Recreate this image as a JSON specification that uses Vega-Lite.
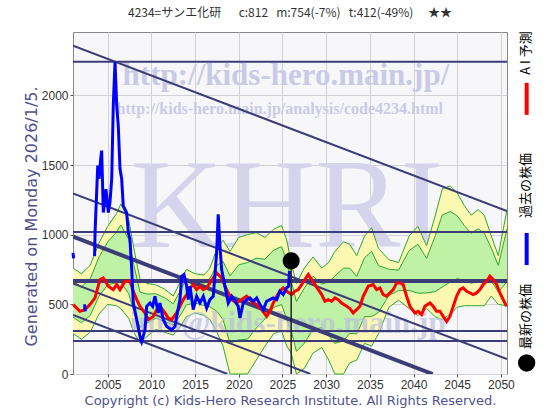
{
  "$schema": "https://vega.github.io/schema/vega-lite/v6.json",
  "width": 434,
  "height": 342,
  "autosize": {"type": "none"},
  "padding": {"left": 73, "top": 32, "right": 53, "bottom": 46},
  "background": "white",
  "title": {
    "text": "4234=サンエ化研\u3000\u00a0\u00a0c:812\u00a0\u00a0\u00a0m:754(-7%)\u00a0\u00a0\u00a0t:412(-49%)\u3000\u00a0★★",
    "font": "Noto Sans CJK JP",
    "fontSize": 12,
    "fontWeight": "normal",
    "color": "#333333",
    "offset": 11
  },
  "config": {
    "view": {"stroke": "#888888", "fill": "#f7f7fa"},
    "axis": {
      "labelFont": "Liberation Sans",
      "labelFontSize": 12,
      "labelColor": "#333333",
      "gridColor": "#d2d2d2",
      "gridWidth": 1,
      "domain": false,
      "tickColor": "#555555",
      "tickSize": 3,
      "labelPadding": 2,
      "titleFont": "DejaVu Sans",
      "titleFontWeight": "normal",
      "titleColor": "#50508c"
    }
  },
  "datasets": {
    "band": [
      {"t": 2001.03, "hi": 760, "lo": 290, "ihi": 666, "ilo": 408},
      {"t": 2002.0, "hi": 720, "lo": 250, "ihi": 626, "ilo": 368},
      {"t": 2003.0, "hi": 780, "lo": 300, "ihi": 684, "ilo": 420},
      {"t": 2004.0, "hi": 940, "lo": 430, "ihi": 838, "ilo": 558},
      {"t": 2005.0, "hi": 1060, "lo": 500, "ihi": 948, "ilo": 640},
      {"t": 2006.0, "hi": 1150, "lo": 490, "ihi": 1018, "ilo": 655},
      {"t": 2006.5, "hi": 1220, "lo": 470, "ihi": 1070, "ilo": 658},
      {"t": 2007.4, "hi": 1110, "lo": 400, "ihi": 968, "ilo": 578},
      {"t": 2008.0, "hi": 900, "lo": 300, "ihi": 780, "ilo": 450},
      {"t": 2008.7, "hi": 680, "lo": 220, "ihi": 588, "ilo": 335},
      {"t": 2009.5, "hi": 650, "lo": 270, "ihi": 574, "ilo": 365},
      {"t": 2010.5, "hi": 640, "lo": 320, "ihi": 576, "ilo": 400},
      {"t": 2011.5, "hi": 610, "lo": 300, "ihi": 548, "ilo": 378},
      {"t": 2012.5, "hi": 560, "lo": 280, "ihi": 504, "ilo": 350},
      {"t": 2013.3, "hi": 660, "lo": 340, "ihi": 596, "ilo": 420},
      {"t": 2014.0, "hi": 750, "lo": 410, "ihi": 682, "ilo": 495},
      {"t": 2015.0, "hi": 720, "lo": 440, "ihi": 664, "ilo": 510},
      {"t": 2016.0, "hi": 710, "lo": 420, "ihi": 652, "ilo": 492},
      {"t": 2016.7, "hi": 760, "lo": 390, "ihi": 686, "ilo": 482},
      {"t": 2017.5, "hi": 900, "lo": 300, "ihi": 780, "ilo": 450},
      {"t": 2018.2, "hi": 960, "lo": 200, "ihi": 808, "ilo": 390},
      {"t": 2019.0, "hi": 880, "lo": 0, "ihi": 704, "ilo": 220},
      {"t": 2020.0, "hi": 980, "lo": 0, "ihi": 784, "ilo": 245},
      {"t": 2021.0, "hi": 1000, "lo": 0, "ihi": 800, "ilo": 250},
      {"t": 2022.0, "hi": 1015, "lo": 100, "ihi": 832, "ilo": 329},
      {"t": 2023.0, "hi": 980, "lo": 200, "ihi": 824, "ilo": 395},
      {"t": 2024.0, "hi": 1040, "lo": 290, "ihi": 890, "ilo": 478},
      {"t": 2024.9, "hi": 1065, "lo": 310, "ihi": 914, "ilo": 499},
      {"t": 2025.5, "hi": 960, "lo": 200, "ihi": 808, "ilo": 390},
      {"t": 2026.0, "hi": 800, "lo": 150, "ihi": 670, "ilo": 312},
      {"t": 2026.6, "hi": 650, "lo": 0, "ihi": 520, "ilo": 162},
      {"t": 2027.5, "hi": 760, "lo": 40, "ihi": 616, "ilo": 220},
      {"t": 2028.5, "hi": 840, "lo": 150, "ihi": 702, "ilo": 322},
      {"t": 2029.5, "hi": 760, "lo": 190, "ihi": 646, "ilo": 332},
      {"t": 2030.3, "hi": 800, "lo": 100, "ihi": 660, "ilo": 275},
      {"t": 2031.0, "hi": 880, "lo": 0, "ihi": 704, "ilo": 220},
      {"t": 2032.0, "hi": 950, "lo": 0, "ihi": 760, "ilo": 238},
      {"t": 2032.7, "hi": 930, "lo": 80, "ihi": 760, "ilo": 292},
      {"t": 2033.5, "hi": 850, "lo": 100, "ihi": 700, "ilo": 288},
      {"t": 2034.4, "hi": 990, "lo": 220, "ihi": 836, "ilo": 412},
      {"t": 2035.2, "hi": 1050, "lo": 200, "ihi": 880, "ilo": 412},
      {"t": 2036.0, "hi": 900, "lo": 290, "ihi": 778, "ilo": 442},
      {"t": 2037.2, "hi": 820, "lo": 480, "ihi": 752, "ilo": 565},
      {"t": 2038.3, "hi": 800, "lo": 530, "ihi": 746, "ilo": 598},
      {"t": 2039.5, "hi": 990, "lo": 470, "ihi": 886, "ilo": 600},
      {"t": 2040.5, "hi": 1060, "lo": 420, "ihi": 932, "ilo": 580},
      {"t": 2041.5, "hi": 920, "lo": 470, "ihi": 830, "ilo": 582},
      {"t": 2042.5, "hi": 1140, "lo": 410, "ihi": 994, "ilo": 592},
      {"t": 2043.3, "hi": 1330, "lo": 390, "ihi": 1142, "ilo": 625},
      {"t": 2044.2, "hi": 1350, "lo": 430, "ihi": 1166, "ilo": 660},
      {"t": 2045.0, "hi": 1300, "lo": 480, "ihi": 1136, "ilo": 685},
      {"t": 2045.8, "hi": 1210, "lo": 490, "ihi": 1066, "ilo": 670},
      {"t": 2046.6, "hi": 1140, "lo": 490, "ihi": 1010, "ilo": 652},
      {"t": 2047.4, "hi": 1180, "lo": 490, "ihi": 1042, "ilo": 662},
      {"t": 2048.1, "hi": 1140, "lo": 490, "ihi": 1010, "ilo": 652},
      {"t": 2048.9, "hi": 990, "lo": 560, "ihi": 904, "ilo": 668},
      {"t": 2049.7, "hi": 850, "lo": 500, "ihi": 780, "ilo": 588},
      {"t": 2050.7, "hi": 1180, "lo": 490, "ihi": 1042, "ilo": 662}
    ],
    "levels": [{"v": 2242}, {"v": 1019}, {"v": 309}, {"v": 237}],
    "mainLevel": [{"v": 668}],
    "trend": [
      {"id": "L1", "t": 2001.03, "v": 2357}, {"id": "L1", "t": 2050.7, "v": 1170},
      {"id": "L2", "t": 2001.03, "v": 1297}, {"id": "L2", "t": 2050.7, "v": 108},
      {"id": "L4", "t": 2001.03, "v": 651}, {"id": "L4", "t": 2028.2, "v": 0},
      {"id": "L5", "t": 2001.03, "v": 424}, {"id": "L5", "t": 2018.7, "v": 0}
    ],
    "mainTrend": [{"t": 2001.03, "v": 986}, {"t": 2042.2, "v": 0}],
    "red": [
      {"t": 2001.06, "v": 498}, {"t": 2001.83, "v": 450}, {"t": 2002.4, "v": 462}, {"t": 2002.97, "v": 498},
      {"t": 2003.55, "v": 546}, {"t": 2004.12, "v": 678}, {"t": 2004.5, "v": 690}, {"t": 2005.07, "v": 630},
      {"t": 2005.64, "v": 606}, {"t": 2006.03, "v": 642}, {"t": 2006.41, "v": 606}, {"t": 2006.98, "v": 666},
      {"t": 2007.55, "v": 666}, {"t": 2007.93, "v": 594}, {"t": 2008.32, "v": 534}, {"t": 2008.7, "v": 486},
      {"t": 2009.27, "v": 438}, {"t": 2009.65, "v": 390}, {"t": 2010.22, "v": 413}, {"t": 2010.61, "v": 462},
      {"t": 2010.98, "v": 486}, {"t": 2011.56, "v": 438}, {"t": 2011.93, "v": 402}, {"t": 2012.32, "v": 390},
      {"t": 2012.89, "v": 438}, {"t": 2013.27, "v": 486}, {"t": 2013.65, "v": 534}, {"t": 2014.04, "v": 570},
      {"t": 2014.42, "v": 618}, {"t": 2014.79, "v": 642}, {"t": 2015.18, "v": 606}, {"t": 2015.56, "v": 630},
      {"t": 2015.94, "v": 606}, {"t": 2016.33, "v": 618}, {"t": 2016.7, "v": 654}, {"t": 2017.08, "v": 690},
      {"t": 2017.47, "v": 726}, {"t": 2017.65, "v": 714}, {"t": 2018.04, "v": 690}, {"t": 2018.42, "v": 630},
      {"t": 2018.8, "v": 582}, {"t": 2019.19, "v": 534}, {"t": 2019.76, "v": 510}, {"t": 2020.33, "v": 534},
      {"t": 2020.9, "v": 558}, {"t": 2021.48, "v": 522}, {"t": 2022.05, "v": 498}, {"t": 2022.62, "v": 462},
      {"t": 2023.19, "v": 413}, {"t": 2023.57, "v": 450}, {"t": 2023.95, "v": 510}, {"t": 2024.34, "v": 558},
      {"t": 2024.71, "v": 594}, {"t": 2025.09, "v": 618}, {"t": 2025.48, "v": 594}, {"t": 2026.05, "v": 570},
      {"t": 2026.43, "v": 594}, {"t": 2026.81, "v": 606}, {"t": 2027.2, "v": 642}, {"t": 2027.57, "v": 678},
      {"t": 2027.95, "v": 714}, {"t": 2028.34, "v": 678}, {"t": 2028.72, "v": 642}, {"t": 2029.1, "v": 606},
      {"t": 2029.49, "v": 570}, {"t": 2029.86, "v": 522}, {"t": 2030.24, "v": 534}, {"t": 2030.63, "v": 522},
      {"t": 2031.01, "v": 546}, {"t": 2031.38, "v": 534}, {"t": 2031.77, "v": 510}, {"t": 2032.35, "v": 486},
      {"t": 2032.72, "v": 470}, {"t": 2033.1, "v": 438}, {"t": 2033.49, "v": 462}, {"t": 2033.87, "v": 486},
      {"t": 2034.24, "v": 558}, {"t": 2034.82, "v": 630}, {"t": 2035.39, "v": 642}, {"t": 2035.78, "v": 606},
      {"t": 2036.16, "v": 618}, {"t": 2036.53, "v": 570}, {"t": 2036.92, "v": 558}, {"t": 2037.3, "v": 582},
      {"t": 2037.68, "v": 606}, {"t": 2038.07, "v": 654}, {"t": 2038.44, "v": 654}, {"t": 2038.82, "v": 642},
      {"t": 2039.21, "v": 558}, {"t": 2039.59, "v": 486}, {"t": 2040.16, "v": 438}, {"t": 2040.54, "v": 450},
      {"t": 2040.93, "v": 426}, {"t": 2041.3, "v": 486}, {"t": 2041.88, "v": 510}, {"t": 2042.25, "v": 486},
      {"t": 2042.64, "v": 450}, {"t": 2043.02, "v": 450}, {"t": 2043.4, "v": 413}, {"t": 2043.79, "v": 377},
      {"t": 2044.17, "v": 413}, {"t": 2044.55, "v": 486}, {"t": 2044.93, "v": 558}, {"t": 2045.31, "v": 606},
      {"t": 2045.69, "v": 618}, {"t": 2046.08, "v": 594}, {"t": 2046.45, "v": 582}, {"t": 2046.83, "v": 570},
      {"t": 2047.22, "v": 582}, {"t": 2047.6, "v": 606}, {"t": 2047.97, "v": 642}, {"t": 2048.36, "v": 666},
      {"t": 2048.74, "v": 702}, {"t": 2049.12, "v": 678}, {"t": 2049.51, "v": 642}, {"t": 2049.89, "v": 582},
      {"t": 2050.26, "v": 534}, {"t": 2050.65, "v": 486}
    ],
    "blue": [
      {"s": "a", "t": 2001.03, "v": 870}, {"s": "a", "t": 2001.1, "v": 830},
      {"s": "b", "t": 2002.35, "v": 500}, {"s": "b", "t": 2002.42, "v": 450},
      {"s": "c", "t": 2003.5, "v": 846}, {"s": "c", "t": 2003.56, "v": 1027}, {"s": "c", "t": 2003.86, "v": 1496},
      {"s": "c", "t": 2004.0, "v": 1400}, {"s": "c", "t": 2004.2, "v": 1544}, {"s": "c", "t": 2004.31, "v": 1604},
      {"s": "c", "t": 2004.5, "v": 1159}, {"s": "c", "t": 2004.8, "v": 1327}, {"s": "c", "t": 2005.07, "v": 1159},
      {"s": "c", "t": 2005.26, "v": 1233}, {"s": "c", "t": 2005.46, "v": 1400}, {"s": "c", "t": 2005.64, "v": 1929},
      {"s": "c", "t": 2005.84, "v": 2240}, {"s": "c", "t": 2006.03, "v": 1929}, {"s": "c", "t": 2006.21, "v": 1784},
      {"s": "c", "t": 2006.41, "v": 1472}, {"s": "c", "t": 2006.6, "v": 1400}, {"s": "c", "t": 2006.78, "v": 1207},
      {"s": "c", "t": 2007.17, "v": 1159}, {"s": "c", "t": 2007.36, "v": 1015}, {"s": "c", "t": 2007.55, "v": 967},
      {"s": "c", "t": 2007.75, "v": 750}, {"s": "c", "t": 2007.93, "v": 510}, {"s": "c", "t": 2008.32, "v": 390},
      {"s": "c", "t": 2008.7, "v": 269}, {"s": "c", "t": 2008.89, "v": 233}, {"s": "c", "t": 2009.27, "v": 317},
      {"s": "c", "t": 2009.46, "v": 486}, {"s": "c", "t": 2009.84, "v": 510}, {"s": "c", "t": 2010.15, "v": 486},
      {"s": "c", "t": 2010.41, "v": 558}, {"s": "c", "t": 2010.79, "v": 438}, {"s": "c", "t": 2010.98, "v": 510},
      {"s": "c", "t": 2011.36, "v": 390}, {"s": "c", "t": 2011.75, "v": 341}, {"s": "c", "t": 2012.32, "v": 317},
      {"s": "c", "t": 2012.7, "v": 341}, {"s": "c", "t": 2012.9, "v": 413}, {"s": "c", "t": 2013.27, "v": 534},
      {"s": "c", "t": 2013.47, "v": 702}, {"s": "c", "t": 2013.73, "v": 714}, {"s": "c", "t": 2014.04, "v": 630},
      {"s": "c", "t": 2014.22, "v": 534}, {"s": "c", "t": 2014.42, "v": 630}, {"s": "c", "t": 2014.79, "v": 462},
      {"s": "c", "t": 2015.18, "v": 558}, {"s": "c", "t": 2015.56, "v": 510}, {"s": "c", "t": 2015.94, "v": 558},
      {"s": "c", "t": 2016.33, "v": 474}, {"s": "c", "t": 2016.7, "v": 534}, {"s": "c", "t": 2017.08, "v": 558},
      {"s": "c", "t": 2017.47, "v": 871}, {"s": "c", "t": 2017.65, "v": 1147}, {"s": "c", "t": 2017.85, "v": 918},
      {"s": "c", "t": 2018.04, "v": 750}, {"s": "c", "t": 2018.42, "v": 630}, {"s": "c", "t": 2018.8, "v": 510},
      {"s": "c", "t": 2019.19, "v": 558}, {"s": "c", "t": 2019.57, "v": 522}, {"s": "c", "t": 2019.94, "v": 486},
      {"s": "c", "t": 2020.14, "v": 402}, {"s": "c", "t": 2020.51, "v": 510}, {"s": "c", "t": 2020.9, "v": 534},
      {"s": "c", "t": 2021.28, "v": 546}, {"s": "c", "t": 2021.66, "v": 522}, {"s": "c", "t": 2022.05, "v": 546},
      {"s": "c", "t": 2022.43, "v": 498}, {"s": "c", "t": 2022.8, "v": 462}, {"s": "c", "t": 2023.19, "v": 522},
      {"s": "c", "t": 2023.57, "v": 534}, {"s": "c", "t": 2023.95, "v": 546}, {"s": "c", "t": 2024.34, "v": 534},
      {"s": "c", "t": 2024.71, "v": 594}, {"s": "c", "t": 2025.09, "v": 570}, {"s": "c", "t": 2025.48, "v": 618},
      {"s": "c", "t": 2025.71, "v": 630}, {"s": "c", "t": 2025.8, "v": 740}
    ],
    "latest": [{"t": 2026.0, "v": 812}]
  },
  "layer": [
    {
      "data": {"values": [{}]},
      "mark": {"type": "text", "text": "KHRI", "font": "Liberation Serif", "fontSize": 128, "color": "#d6d3ec", "align": "center", "baseline": "alphabetic"},
      "encoding": {
        "x": {"datum": 2025.5, "type": "quantitative", "scale": {"domain": [2001.03, 2050.7], "nice": false, "zero": false},
          "axis": {"values": [2005, 2010, 2015, 2020, 2025, 2030, 2035, 2040, 2045, 2050], "format": "d", "grid": true,
            "title": "Copyright (c) Kids-Hero Research Institute. All Rights Reserved.", "titleFontSize": 13, "titlePadding": 4}},
        "y": {"datum": 912, "type": "quantitative", "scale": {"domain": [0, 2455], "nice": false, "zero": true},
          "axis": {"values": [0, 500, 1000, 1500, 2000], "format": "d", "grid": true,
            "title": "Generated on Monday 2026/1/5.", "titleFontSize": 16, "titleX": -42, "titleY": 184, "titleAlign": "center", "titleBaseline": "middle", "titleAngle": -90}}
      }
    },
    {
      "data": {"values": [{}]},
      "mark": {"type": "text", "text": "http://kids-hero.main.jp/", "font": "Liberation Serif", "fontWeight": "bold", "fontSize": 31, "color": "#cacae6", "align": "center", "baseline": "alphabetic"},
      "encoding": {"x": {"datum": 2025.4, "type": "quantitative"}, "y": {"datum": 2075, "type": "quantitative"}}
    },
    {
      "data": {"values": [{}]},
      "mark": {"type": "text", "text": "http://kids-hero.main.jp/analysis/code4234.html", "font": "Liberation Serif", "fontWeight": "bold", "fontSize": 16, "color": "#cacae6", "align": "center", "baseline": "alphabetic"},
      "encoding": {"x": {"datum": 2024.7, "type": "quantitative"}, "y": {"datum": 1866, "type": "quantitative"}}
    },
    {
      "data": {"name": "band"},
      "mark": {"type": "area", "color": "#fcf8b2", "opacity": 1},
      "encoding": {"x": {"field": "t", "type": "quantitative"}, "y": {"field": "hi", "type": "quantitative"}, "y2": {"field": "lo"}}
    },
    {
      "data": {"name": "band"},
      "mark": {"type": "area", "color": "#bff2a4", "opacity": 1},
      "encoding": {"x": {"field": "t", "type": "quantitative"}, "y": {"field": "ihi", "type": "quantitative"}, "y2": {"field": "ilo"}}
    },
    {
      "data": {"name": "band"},
      "mark": {"type": "line", "color": "#2ea82e", "strokeWidth": 1},
      "encoding": {"x": {"field": "t", "type": "quantitative"}, "y": {"field": "hi", "type": "quantitative"}}
    },
    {
      "data": {"name": "band"},
      "mark": {"type": "line", "color": "#2ea82e", "strokeWidth": 1},
      "encoding": {"x": {"field": "t", "type": "quantitative"}, "y": {"field": "lo", "type": "quantitative"}}
    },
    {
      "data": {"name": "band"},
      "mark": {"type": "line", "color": "#2ea82e", "strokeWidth": 1},
      "encoding": {"x": {"field": "t", "type": "quantitative"}, "y": {"field": "ihi", "type": "quantitative"}}
    },
    {
      "data": {"name": "band"},
      "mark": {"type": "line", "color": "#2ea82e", "strokeWidth": 1},
      "encoding": {"x": {"field": "t", "type": "quantitative"}, "y": {"field": "ilo", "type": "quantitative"}}
    },
    {
      "data": {"values": [{}]},
      "mark": {"type": "text", "text": "info@kids-hero.main.jp", "font": "Liberation Serif", "fontWeight": "bold", "fontSize": 31, "color": "#bdbde0", "opacity": 0.7, "align": "center", "baseline": "alphabetic"},
      "encoding": {"x": {"datum": 2025.6, "type": "quantitative"}, "y": {"datum": 294, "type": "quantitative"}}
    },
    {
      "data": {"name": "levels"},
      "mark": {"type": "rule", "color": "#3c3c78", "strokeWidth": 2},
      "encoding": {"y": {"field": "v", "type": "quantitative"}}
    },
    {
      "data": {"name": "mainLevel"},
      "mark": {"type": "rule", "color": "#3c3c78", "strokeWidth": 4},
      "encoding": {"y": {"field": "v", "type": "quantitative"}}
    },
    {
      "data": {"name": "trend"},
      "mark": {"type": "line", "color": "#3c3c78", "strokeWidth": 2, "clip": true},
      "encoding": {"x": {"field": "t", "type": "quantitative"}, "y": {"field": "v", "type": "quantitative"}, "detail": {"field": "id"}}
    },
    {
      "data": {"name": "mainTrend"},
      "mark": {"type": "line", "color": "#3c3c78", "strokeWidth": 4, "clip": true},
      "encoding": {"x": {"field": "t", "type": "quantitative"}, "y": {"field": "v", "type": "quantitative"}}
    },
    {
      "data": {"name": "red"},
      "mark": {"type": "line", "color": "#ff0000", "strokeWidth": 3},
      "encoding": {"x": {"field": "t", "type": "quantitative"}, "y": {"field": "v", "type": "quantitative"}}
    },
    {
      "data": {"name": "blue"},
      "mark": {"type": "line", "color": "#0000ff", "strokeWidth": 3},
      "encoding": {"x": {"field": "t", "type": "quantitative"}, "y": {"field": "v", "type": "quantitative"}, "detail": {"field": "s"}}
    },
    {
      "data": {"name": "latest"},
      "mark": {"type": "rule", "color": "#222222", "strokeWidth": 1.5},
      "encoding": {"x": {"field": "t", "type": "quantitative"}, "y": {"field": "v", "type": "quantitative"}, "y2": {"datum": 0}}
    },
    {
      "data": {"name": "latest"},
      "mark": {"type": "circle", "color": "#000000", "opacity": 1, "size": 290},
      "encoding": {"x": {"field": "t", "type": "quantitative"}, "y": {"field": "v", "type": "quantitative"}}
    },
    {
      "data": {"values": [{}]},
      "mark": {"type": "text", "text": "A I 予測", "font": "Noto Sans CJK JP", "fontSize": 13, "color": "#000000", "angle": 270, "align": "center", "baseline": "middle"},
      "encoding": {"x": {"datum": 2052.93, "type": "quantitative"}, "y": {"datum": 2304, "type": "quantitative"}}
    },
    {
      "data": {"values": [{}]},
      "mark": {"type": "rule", "color": "#ff0000", "strokeWidth": 4},
      "encoding": {"x": {"datum": 2052.95, "type": "quantitative"}, "y": {"datum": 2090, "type": "quantitative"}, "y2": {"datum": 1860}}
    },
    {
      "data": {"values": [{}]},
      "mark": {"type": "text", "text": "過去の株価", "font": "Noto Sans CJK JP", "fontSize": 13, "color": "#000000", "angle": 270, "align": "center", "baseline": "middle"},
      "encoding": {"x": {"datum": 2052.93, "type": "quantitative"}, "y": {"datum": 1353, "type": "quantitative"}}
    },
    {
      "data": {"values": [{}]},
      "mark": {"type": "rule", "color": "#0000ff", "strokeWidth": 4},
      "encoding": {"x": {"datum": 2052.95, "type": "quantitative"}, "y": {"datum": 1012, "type": "quantitative"}, "y2": {"datum": 782}}
    },
    {
      "data": {"values": [{}]},
      "mark": {"type": "text", "text": "最新の株価", "font": "Noto Sans CJK JP", "fontSize": 13, "color": "#000000", "angle": 270, "align": "center", "baseline": "middle"},
      "encoding": {"x": {"datum": 2052.93, "type": "quantitative"}, "y": {"datum": 413, "type": "quantitative"}}
    },
    {
      "data": {"values": [{}]},
      "mark": {"type": "circle", "color": "#000000", "opacity": 1, "size": 300},
      "encoding": {"x": {"datum": 2052.95, "type": "quantitative"}, "y": {"datum": 79, "type": "quantitative"}}
    }
  ]
}
